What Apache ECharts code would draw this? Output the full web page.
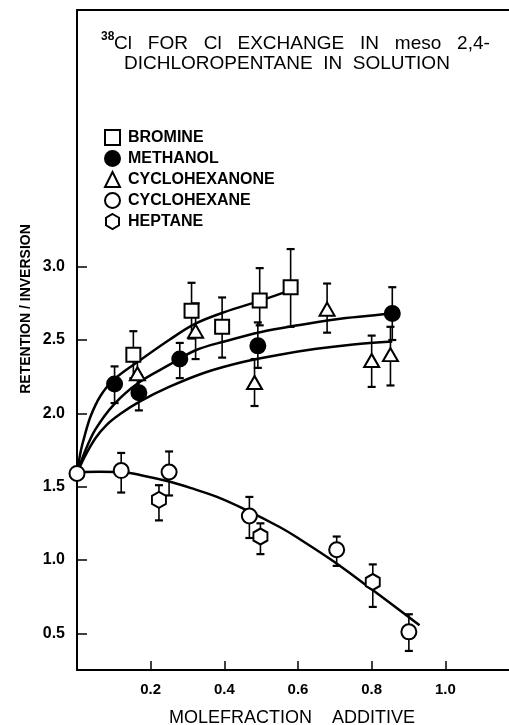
<!DOCTYPE html>
<html><head><meta charset="utf-8">
<script src="https://cdn.jsdelivr.net/npm/echarts@6/dist/echarts.min.js"></script>
<style>html,body{margin:0;padding:0;background:#fff}#c{width:509px;height:725px}</style>
</head><body><div id="c"></div>
<script>
// ---- data ----
const xTicks = [0.2, 0.4, 0.6, 0.8, 1.0];
const yTicks = [0.5, 1.0, 1.5, 2.0, 2.5, 3.0];
const seriesNames = ['BROMINE', 'METHANOL', 'CYCLOHEXANONE', 'CYCLOHEXANE', 'HEPTANE'];
// points: [x, y, errLow, errHigh]
const bromine = [[0.153,2.40,2.24,2.56],[0.311,2.70,2.51,2.89],[0.394,2.59,2.38,2.79],[0.496,2.77,2.60,2.99],[0.580,2.86,2.59,3.12]];
const methanol = [[0.102,2.20,2.07,2.32],[0.168,2.14,2.02,2.26],[0.279,2.37,2.24,2.48],[0.491,2.46,2.31,2.62],[0.856,2.68,2.50,2.86]];
const cyclohexanone = [[0.164,2.27,2.17,2.37],[0.322,2.56,2.37,2.75],[0.482,2.21,2.05,2.37],[0.679,2.71,2.55,2.885],[0.800,2.36,2.18,2.53],[0.851,2.40,2.19,2.59]];
const cyclohexane = [[0,1.59,1.59,1.59],[0.120,1.61,1.46,1.73],[0.250,1.60,1.44,1.74],[0.468,1.30,1.15,1.43],[0.705,1.07,0.96,1.16],[0.901,0.51,0.38,0.63]];
const heptane = [[0.2225,1.41,1.27,1.51],[0.498,1.16,1.04,1.25],[0.803,0.85,0.68,0.97]];
// fitted curves as drawn
const curveTop = [[0,1.59],[0.01,1.74],[0.02,1.84],[0.037,1.98],[0.064,2.12],[0.1,2.23],[0.17,2.36],[0.25,2.50],[0.32,2.61],[0.4,2.69],[0.5,2.77],[0.58,2.84]];
const curveMid = [[0,1.59],[0.02,1.73],[0.05,1.89],[0.1,2.06],[0.168,2.21],[0.25,2.33],[0.322,2.43],[0.4,2.49],[0.5,2.555],[0.6,2.60],[0.7,2.64],[0.856,2.68]];
const curveLow = [[0,1.59],[0.02,1.70],[0.05,1.83],[0.08,1.92],[0.12,2.00],[0.17,2.08],[0.25,2.18],[0.35,2.28],[0.45,2.35],[0.55,2.40],[0.65,2.44],[0.75,2.47],[0.856,2.49]];
const curveDown = [[0,1.60],[0.06,1.602],[0.12,1.60],[0.18,1.575],[0.25,1.535],[0.31,1.49],[0.38,1.43],[0.46,1.34],[0.55,1.225],[0.6,1.15],[0.7,0.985],[0.8,0.80],[0.93,0.555]];

const hexPath = 'path://M0,-10 L8.66,-5 L8.66,5 L0,10 L-8.66,5 L-8.66,-5 Z';
const symbols = ['rect', 'circle', 'triangle', 'circle', hexPath];
const fills = ['#fff', '#000', '#fff', '#fff', '#fff'];
const sizes = [14, 15, [15, 13], 15, [14, 16]];
const allData = [bromine, methanol, cyclohexanone, cyclohexane, heptane];

function errRender(params, api) {
  const x = api.value(0), lo = api.value(2), hi = api.value(3);
  if (lo === hi) return null;
  const a = api.coord([x, lo]), b = api.coord([x, hi]);
  const w = 4;
  return { type: 'group', children: [
    { type: 'line', shape: { x1: a[0], y1: a[1], x2: b[0], y2: b[1] }, style: { stroke: '#000', lineWidth: 1.6 } },
    { type: 'line', shape: { x1: a[0]-w, y1: a[1], x2: a[0]+w, y2: a[1] }, style: { stroke: '#000', lineWidth: 2.2 } },
    { type: 'line', shape: { x1: b[0]-w, y1: b[1], x2: b[0]+w, y2: b[1] }, style: { stroke: '#000', lineWidth: 2.2 } }
  ]};
}

const series = [];
[curveTop, curveMid, curveLow, curveDown].forEach((c, i) => {
  series.push({ type: 'line', name: 'fit' + i, data: c, smooth: 0.35, showSymbol: false, silent: true,
    lineStyle: { color: '#000', width: 2.5 }, z: 2 });
});
allData.forEach((d, i) => {
  series.push({ type: 'custom', name: 'err' + i, data: d, renderItem: errRender, encode: { x: 0, y: 1 }, z: 3, silent: true });
});
allData.forEach((d, i) => {
  series.push({ type: 'scatter', name: seriesNames[i], data: d.map(p => [p[0], p[1]]),
    symbol: symbols[i], symbolSize: sizes[i], z: 4,
    itemStyle: { color: fills[i], borderColor: '#000', borderWidth: 2, opacity: 1 } });
});

const chart = echarts.init(document.getElementById('c'));
chart.setOption({
  animation: false,
  backgroundColor: '#fff',
  grid: { left: 77, top: 10, width: 442, height: 660, outerBoundsMode: 'none', containLabel: false },
  legend: {
    data: seriesNames, orient: 'vertical', left: 104, top: 129, padding: 0,
    itemWidth: 15, itemHeight: 15, itemGap: 4, selectedMode: false,
    textStyle: { fontFamily: 'Liberation Sans', fontWeight: 'bold', fontSize: 16, color: '#000', padding: [0,0,0,3] }
  },
  xAxis: [{
    type: 'value', min: 0, max: 1.2, position: 'bottom',
    name: 'MOLEFRACTION    ADDITIVE', nameLocation: 'middle', nameGap: 39,
    nameTextStyle: { fontFamily: 'Liberation Sans', fontSize: 18, color: '#000', padding: [0, 12, 0, 0] },
    axisLine: { lineStyle: { color: '#000', width: 2 } },
    axisTick: { inside: true, length: 9, lineStyle: { color: '#000', width: 1.5 }, customValues: xTicks },
    axisLabel: { customValues: xTicks, margin: 12, fontFamily: 'Liberation Sans', fontWeight: 'bold', fontSize: 15, color: '#000',
      formatter: v => v.toFixed(1) },
    splitLine: { show: false }
  }, {
    type: 'value', min: 0, max: 1.2, position: 'top',
    axisLine: { show: true, onZero: false, lineStyle: { color: '#000', width: 2 } },
    axisTick: { show: false }, axisLabel: { show: false }, splitLine: { show: false }
  }],
  yAxis: {
    type: 'value', min: 0.25, max: 4.75,
    axisLine: { show: true, lineStyle: { color: '#000', width: 2 } },
    axisTick: { show: true, inside: true, length: 10, lineStyle: { color: '#000', width: 1.5 }, customValues: yTicks },
    axisLabel: { customValues: yTicks, margin: 12, fontFamily: 'Liberation Sans', fontWeight: 'bold', fontSize: 16, color: '#000',
      formatter: v => v.toFixed(1) },
    splitLine: { show: false }
  },
  graphic: [
    { type: 'text', x: 26, y: 309, rotation: Math.PI / 2,
      style: { text: 'RETENTION / INVERSION', fontFamily: 'Liberation Sans', fontWeight: 'bold', fontSize: 14, fill: '#000', align: 'center', verticalAlign: 'middle' } },
    { type: 'text', x: 101, y: 37, style: { text: '38', fontFamily: 'Liberation Sans', fontWeight: 'bold', fontSize: 12, fill: '#000', align: 'left', verticalAlign: 'middle' } },
    { type: 'text', x: 114, y: 44, style: { text: 'Cl   FOR   Cl   EXCHANGE   IN   meso   2,4-', fontFamily: 'Liberation Sans', fontSize: 19, fill: '#000', align: 'left', verticalAlign: 'middle' } },
    { type: 'text', x: 124, y: 64, style: { text: 'DICHLOROPENTANE  IN  SOLUTION', fontFamily: 'Liberation Sans', fontSize: 19, fill: '#000', align: 'left', verticalAlign: 'middle' } }
  ],
  series: series
});
</script></body></html>
